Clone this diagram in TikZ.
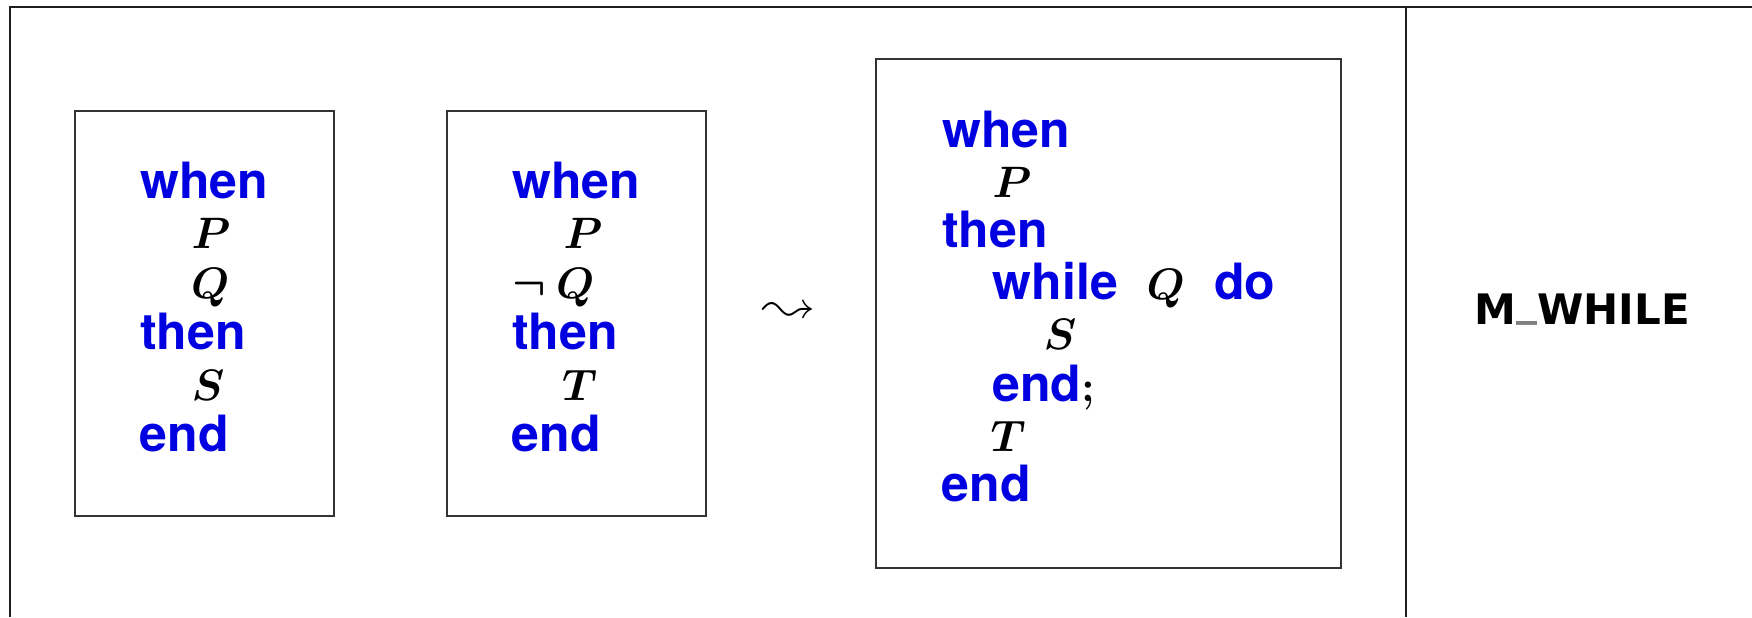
\RequirePackage{fix-cm}
\documentclass[tikz,border=0pt]{standalone}
\usepackage{amsmath}
\usepackage{latexsym}
\usepackage{fontspec}
\newfontfamily\kwfont{TeX Gyre Heros}
\newfontfamily\tagfont{DejaVu Sans}
\definecolor{kwblue}{RGB}{0,0,225}
\tikzset{
  frame/.style={line width=1pt, draw=black!88},
  codebox/.style={line width=1pt, draw=black!80},
  ln/.style={anchor=base west, inner sep=0pt, outer sep=0pt},
  kw/.style={ln, text=kwblue, font=\kwfont\bfseries\fontsize{25}{25}\selectfont},
  mv/.style={ln, font=\fontsize{22}{22}\selectfont},
}
\newcommand{\stmtsep}{{\color{black}\fontsize{22}{22}\selectfont$\boldsymbol{;}$}}
\begin{document}
\begin{tikzpicture}[x=0.5pt, y=-0.5pt]
\useasboundingbox (0,0) rectangle (1752,617);

% table frame
\coordinate (tl) at (9.7,6.7);
\coordinate (tr) at (1752,6.7);
\coordinate (bl) at (9.7,617);
\coordinate (dtop) at (1406,6.7);
\coordinate (dbot) at (1406,617);
\draw[frame] (bl) -- (tl) -- (tr);
\draw[frame] (dtop) -- (dbot);

% three code boxes
\draw[codebox] (74.9,110.6) rectangle (334.1,516.2);
\draw[codebox] (446.9,110.6) rectangle (706.1,516.2);
\draw[codebox] (876,59.2) rectangle (1340.8,568);

% first rule: when P Q then S end
\node[kw] (a1) at (140.3,198.5) {when};
\node[mv] (a2) at (191.5,248) {$\boldsymbol{P}$};
\node[mv] (a3) at (191,298.5) {$\boldsymbol{Q}$};
\node[kw] (a4) at (140.3,349.5) {then};
\node[mv] (a5) at (191.5,400) {$\boldsymbol{S}$};
\node[kw] (a6) at (139.8,451) {end};

% second rule: when P not-Q then T end
\node[kw] (b1) at (512.2,198.5) {when};
\node[mv] (b2) at (563.5,248) {$\boldsymbol{P}$};
\node[mv] (b3n) at (512.6,298.5) {$\boldsymbol{\neg}$};
\node[mv] (b3) at (556,298.5) {$\boldsymbol{Q}$};
\node[kw] (b4) at (512.2,349.5) {then};
\node[mv] (b5) at (562,400) {$\boldsymbol{T}$};
\node[kw] (b6) at (511.7,451) {end};

% leads-to symbol
\node[inner sep=0pt, font=\fontsize{24.88}{25}\selectfont] (arrow) at (789,312.5) {\scalebox{1.05}{$\leadsto$}};

% merged rule with a while loop
\node[kw] (c1) at (942.2,147) {when};
\node[mv] (c2) at (992.5,197) {$\boldsymbol{P}$};
\node[kw] (c3) at (942.2,247.5) {then};
\node[kw] (c4) at (992.8,299) {while};
\node[mv] (c4q) at (1146.5,299) {$\boldsymbol{Q}$};
\node[kw] (c4d) at (1214,299) {do};
\node[mv] (c5) at (1043.5,349.5) {$\boldsymbol{S}$};
\node[kw] (c6) at (992.3,401) {end\stmtsep};
\node[mv] (c7) at (990.5,451) {$\boldsymbol{T}$};
\node[kw] (c8) at (941.7,501.5) {end};

% rule name
\node[inner sep=0pt, anchor=base, font=\tagfont\bfseries\fontsize{21}{21}\selectfont] (name) at (1582.3,324.3) {M{\color{black!50}\raisebox{0.2em}{\_}}WHILE};
\end{tikzpicture}
\end{document}
